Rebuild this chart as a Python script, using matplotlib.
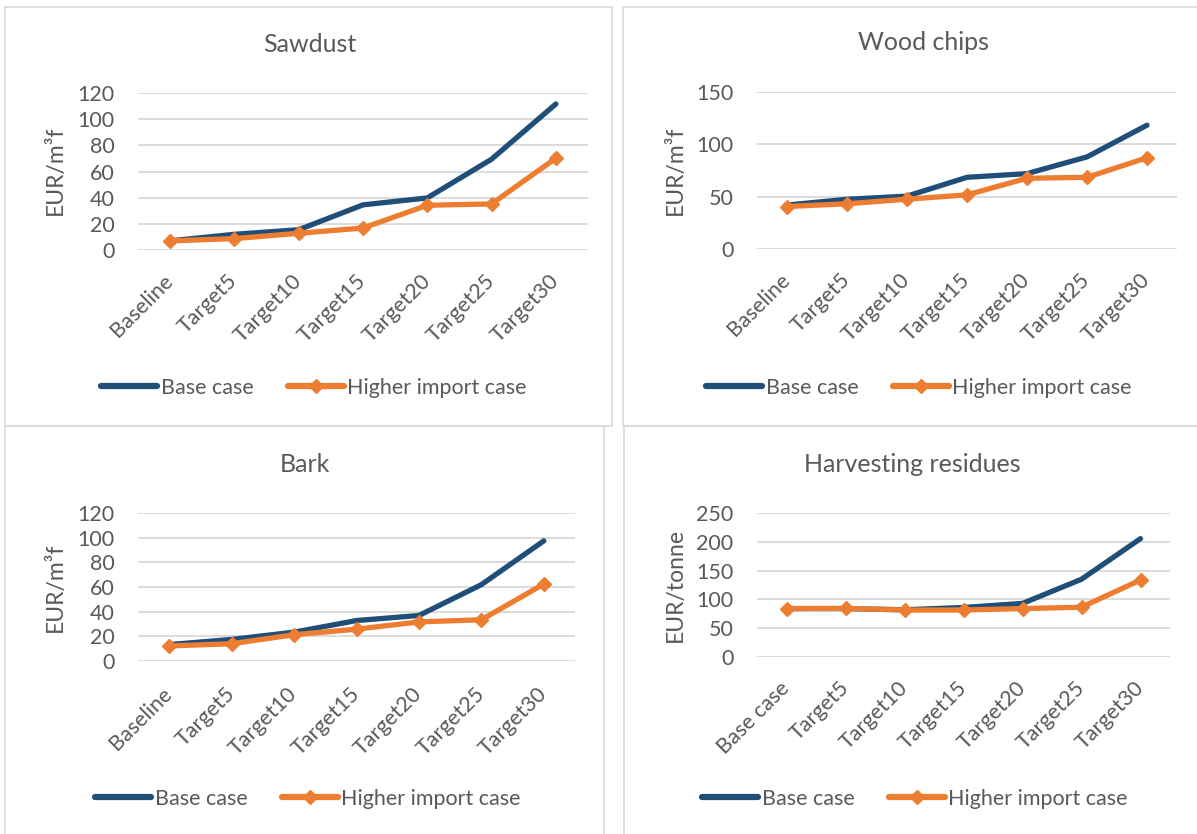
import numpy as np
import matplotlib.pyplot as plt
from matplotlib.patches import Rectangle
from matplotlib.lines import Line2D

plt.rcParams['font.family'] = ['Lato', 'DejaVu Sans']

# scenario labels on the x axis
scenarios = ['Baseline', 'Target5', 'Target10', 'Target15', 'Target20', 'Target25', 'Target30']
scenarios_hr = ['Base case', 'Target5', 'Target10', 'Target15', 'Target20', 'Target25', 'Target30']

# prices per assortment: base case / higher import case
sawdust_base = [7, 12, 15.5, 34.5, 39.8, 69.4, 111.6]
sawdust_high = [7, 8.7, 12.8, 16.8, 34.2, 35.2, 70.2]

chips_base = [42, 47.5, 50.5, 68.5, 72, 88, 118.3]
chips_high = [40.6, 43.2, 47.6, 51.7, 67.6, 68.5, 87.2]

bark_base = [13.3, 17.5, 23.4, 32.8, 36.9, 61.9, 97.4]
bark_high = [12.2, 14, 21.3, 25.8, 31.7, 33.4, 62.4]

resid_base = [84, 84, 82, 86, 93, 135, 205.5]
resid_high = [84, 84.5, 81.6, 81.6, 84, 86.5, 133.7]

W, H = 1197, 834
BLUE = '#1F4E79'
ORANGE = '#ED7D31'
TXT = '#595959'
GRID = '#D9D9D9'


def fbox(x0, y0, x1, y1):
    """pixel box (top-left origin) -> figure fraction [l, b, w, h]"""
    return [x0 / W, 1 - y1 / H, (x1 - x0) / W, (y1 - y0) / H]


def panel(fig, frame, axbox, title, title_xy, ylab, ylab_xy, cats, base, high,
          ymax, ystep, leg_xy, xpad=20):
    fx0, fy0, fx1, fy1 = frame
    fig.add_artist(Rectangle((fx0 / W, 1 - fy1 / H), (fx1 - fx0) / W, (fy1 - fy0) / H,
                             transform=fig.transFigure, fill=False, ec=GRID, lw=1.2))
    ax = fig.add_axes(fbox(*axbox))
    x = np.arange(len(cats))
    ax.plot(x, base, color=BLUE, lw=3.8, solid_capstyle='round', solid_joinstyle='round',
            zorder=3)
    ax.plot(x, high, color=ORANGE, lw=3.8, marker='D', ms=7, mec=ORANGE,
            solid_capstyle='round', solid_joinstyle='round', zorder=4)
    ax.set_xlim(-0.5, len(cats) - 0.5)
    ax.set_ylim(0, ymax)
    ax.set_yticks(np.arange(0, ymax + 1, ystep))
    ax.set_xticks(x)
    ax.set_xticklabels(cats, rotation=45, ha='right', va='center', rotation_mode='anchor')
    ax.tick_params(axis='both', length=0, labelsize=15.5, colors=TXT)
    ax.tick_params(axis='x', pad=xpad)
    ax.tick_params(axis='y', pad=17)
    ax.yaxis.grid(True, color=GRID, lw=1.3)
    ax.set_axisbelow(True)
    for s in ax.spines.values():
        s.set_visible(False)
    ax.patch.set_alpha(0)

    fig.text(title_xy[0] / W, 1 - title_xy[1] / H, title, ha='center', va='center',
             fontsize=18, color=TXT)
    fig.text(ylab_xy[0] / W, 1 - ylab_xy[1] / H, ylab, ha='center', va='center',
             rotation=90, fontsize=16.5, color=TXT)

    handles = [Line2D([], [], color=BLUE, lw=4.5, solid_capstyle='round'),
               Line2D([], [], color=ORANGE, lw=4.5, marker='D', ms=7, mec=ORANGE,
                      solid_capstyle='round')]
    ax.legend(handles, ['Base case', 'Higher import case'], loc='center',
              bbox_to_anchor=(leg_xy[0] / W, 1 - leg_xy[1] / H),
              bbox_transform=fig.transFigure, ncol=2, frameon=False,
              fontsize=15.5, labelcolor=TXT, handlelength=2.6, handletextpad=0.15,
              columnspacing=1.6)
    return ax


fig = plt.figure(figsize=(W / 100, H / 100), dpi=100)

panel(fig, (5, 7, 612, 426), (138, 93, 588, 250), 'Sawdust', (310, 45),
      'EUR/m³f', (55, 170), scenarios, sawdust_base, sawdust_high, 120, 20, (314, 388))
panel(fig, (623, 7, 1203, 426), (757, 92, 1177, 249), 'Wood chips', (924, 43),
      'EUR/m³f', (675, 170), scenarios, chips_base, chips_high, 150, 50, (919, 388))
panel(fig, (5, 426, 604, 840), (138, 513, 575, 661), 'Bark', (305, 464),
      'EUR/m³f', (55, 587), scenarios, bark_base, bark_high, 120, 20, (308, 799), xpad=21.5)
panel(fig, (624, 426, 1203, 840), (757, 513, 1170, 657), 'Harvesting residues', (912, 464),
      'EUR/tonne', (675, 585), scenarios_hr, resid_base, resid_high, 250, 50, (915, 799))

fig.savefig('out.png', dpi=100)
